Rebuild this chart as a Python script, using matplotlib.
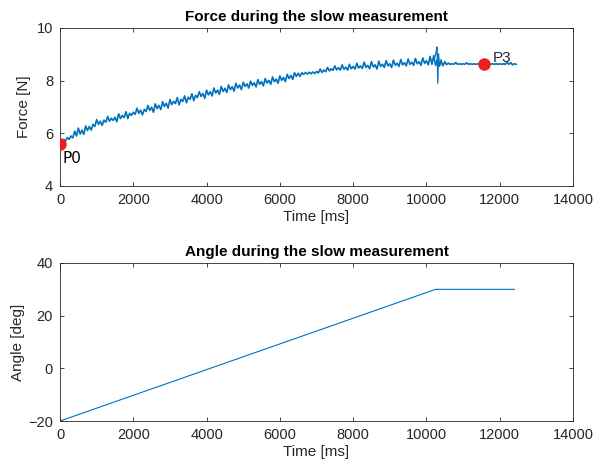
import numpy as np
import matplotlib
matplotlib.use("Agg")
import matplotlib.pyplot as plt

plt.rcParams['font.family'] = ['Liberation Sans', 'DejaVu Sans']

# Force record: upper / lower excursions of the noisy signal, one pair every 100 ms
force_t = np.arange(0, 12500, 100)
force_upper = [
    5.71, 5.77, 5.84, 5.90, 6.08, 6.20, 6.12, 6.28, 6.26, 6.34,
    6.52, 6.46, 6.50, 6.64, 6.57, 6.61, 6.74, 6.68, 6.82, 6.76,
    6.80, 6.95, 6.88, 6.91, 7.06, 6.99, 7.12, 7.06, 7.20, 7.14,
    7.28, 7.21, 7.36, 7.29, 7.42, 7.37, 7.50, 7.44, 7.58, 7.51,
    7.64, 7.58, 7.72, 7.64, 7.78, 7.71, 7.84, 7.77, 7.90, 7.83,
    7.94, 7.88, 7.98, 7.92, 8.04, 7.96, 8.08, 8.01, 8.14, 8.06,
    8.18, 8.12, 8.24, 8.20, 8.30, 8.28, 8.30, 8.31, 8.32, 8.33,
    8.35, 8.44, 8.40, 8.50, 8.45, 8.56, 8.49, 8.60, 8.51, 8.62,
    8.54, 8.66, 8.56, 8.70, 8.58, 8.72, 8.60, 8.74, 8.62, 8.76,
    8.64, 8.78, 8.66, 8.80, 8.68, 8.82, 8.70, 8.84, 8.72, 8.86,
    8.75, 8.92, 8.95, 8.80, 8.75, 8.72, 8.66, 8.64, 8.69, 8.64,
    8.64, 8.68, 8.64, 8.64, 8.64, 8.64, 8.64, 8.64, 8.64, 8.64,
    8.64, 8.64, 8.69, 8.68, 8.64,
]
force_lower = [
    5.65, 5.71, 5.77, 5.83, 5.90, 5.97, 5.96, 6.11, 6.12, 6.26,
    6.34, 6.30, 6.42, 6.46, 6.49, 6.44, 6.56, 6.60, 6.56, 6.68,
    6.72, 6.76, 6.70, 6.83, 6.87, 6.80, 6.94, 6.90, 7.02, 6.96,
    7.09, 7.13, 7.08, 7.21, 7.16, 7.29, 7.24, 7.36, 7.40, 7.33,
    7.46, 7.42, 7.53, 7.48, 7.59, 7.55, 7.66, 7.60, 7.72, 7.66,
    7.78, 7.72, 7.82, 7.76, 7.86, 7.80, 7.91, 7.86, 7.96, 7.90,
    8.01, 7.96, 8.08, 8.05, 8.16, 8.16, 8.24, 8.25, 8.26, 8.27,
    8.29, 8.31, 8.34, 8.37, 8.39, 8.41, 8.40, 8.43, 8.40, 8.45,
    8.44, 8.48, 8.46, 8.50, 8.45, 8.52, 8.44, 8.54, 8.50, 8.56,
    8.50, 8.58, 8.54, 8.60, 8.56, 8.62, 8.58, 8.64, 8.58, 8.66,
    8.60, 8.62, 8.58, 8.55, 8.56, 8.61, 8.62, 8.62, 8.62, 8.62,
    8.62, 8.62, 8.62, 8.62, 8.62, 8.62, 8.62, 8.62, 8.62, 8.62,
    8.62, 8.62, 8.62, 8.60, 8.62,
]

# Short disturbance when the ramp stops
spike_t = [10220, 10260, 10290, 10310, 10330, 10360, 10400]
spike_force = [8.85, 9.05, 9.28, 7.90, 9.02, 8.55, 8.80]

# Marked points on the force curve
point_labels = ["P0", "P3"]
point_t = [0, 11570]
point_force = [5.6, 8.63]

# Angle ramp
angle_t = [0, 10250, 12400]
angle_deg = [-20, 30, 30]

x_ticks = [0, 2000, 4000, 6000, 8000, 10000, 12000, 14000]

# Interleave upper and lower excursions into one time series
t_series = np.column_stack([force_t, force_t + 50]).ravel()
f_series = np.column_stack([force_upper, force_lower]).ravel()

blue = '#0072BD'
grey = '#262626'

fig = plt.figure(figsize=(5.96, 4.74), dpi=100)
ax1 = fig.add_axes([0.1007, 0.6076, 0.8607, 0.3334])
ax2 = fig.add_axes([0.1007, 0.1118, 0.8607, 0.3334])


def style(ax):
    ax.set_xlim(0, 14000)
    ax.set_xticks(x_ticks)
    ax.tick_params(direction='in', top=True, right=True, length=3,
                   width=0.6, labelsize=10.5, colors=grey, pad=5)
    for s in ax.spines.values():
        s.set_linewidth(0.6)
        s.set_color(grey)


ax1.plot(t_series, f_series, color=blue, lw=1.2)
ax1.plot(spike_t, spike_force, color=blue, lw=0.9)
ax1.plot(point_t, point_force, 'o', color='#F01E1E', ms=9, mec='none', zorder=5)
ax1.text(point_t[0] + 60, 5.05, point_labels[0], fontsize=11, ha='left', va='center',
         family=['DejaVu Sans'], color='black')
ax1.text(point_t[1] + 230, 8.86, point_labels[1], fontsize=11, ha='left', va='center',
         color=grey)
ax1.set_ylim(4, 10)
ax1.set_yticks([4, 6, 8, 10])
style(ax1)
ax1.set_title('Force during the slow measurement', fontsize=11, fontweight='bold', pad=5)
ax1.set_xlabel('Time [ms]', fontsize=11, color=grey, labelpad=2)
ax1.set_ylabel('Force [N]', fontsize=11, color=grey, labelpad=4)

ax2.plot(angle_t, angle_deg, color=blue, lw=0.8)
ax2.set_ylim(-20, 40)
ax2.set_yticks([-20, 0, 20, 40])
style(ax2)
ax2.set_title('Angle during the slow measurement', fontsize=11, fontweight='bold', pad=5)
ax2.set_xlabel('Time [ms]', fontsize=11, color=grey, labelpad=2)
ax2.set_ylabel('Angle [deg]', fontsize=11, color=grey, labelpad=2)

fig.savefig('out.png', dpi=100)
